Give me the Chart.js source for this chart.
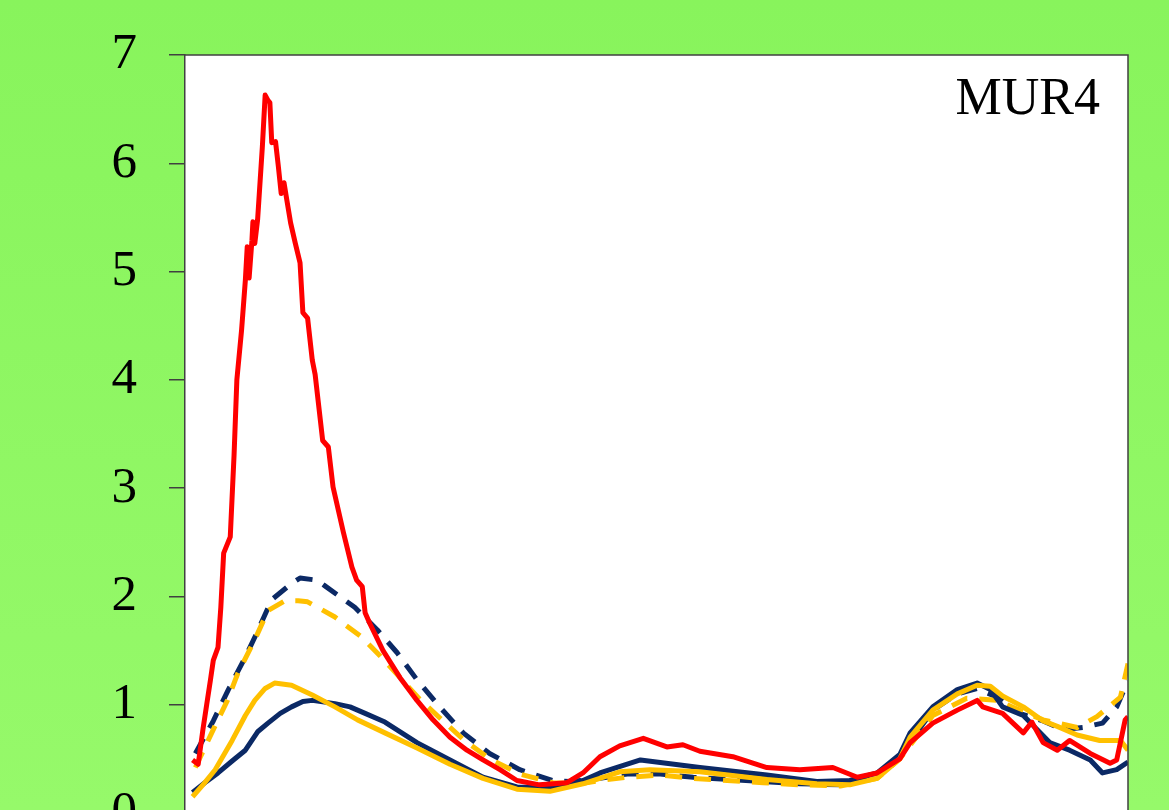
<!DOCTYPE html>
<html>
<head>
  <meta charset="UTF-8">
  <title>MUR4</title>
  <script src="https://cdn.jsdelivr.net/npm/chart.js"></script>
  <style>
    html, body { margin: 0; padding: 0; overflow: hidden; }
    body { background: linear-gradient(#88f45c, #96f96a); width: 1169px; height: 810px; }
  </style>
</head>
<body>
    <canvas id="murChart" width="1169" height="900"></canvas>
    <script>
        // x runs 0..100 across the panel, y
        var redX = [0.8, 1.4, 1.9, 2.3, 2.7, 3.0, 3.5, 3.8, 4.1, 4.8, 5.2, 5.5, 6.0, 6.4, 6.6, 6.8, 7.1, 7.2, 7.4, 7.7,
            8.2, 8.5, 8.8, 9.0, 9.2, 9.6, 9.9, 10.2, 10.5, 10.8, 11.2, 11.7, 12.2, 12.5, 13.0, 13.5, 13.8, 14.6, 15.2, 15.7,
            16.8, 17.7, 18.2, 18.8, 19.1, 19.6, 21.0, 22.8, 24.6, 26.3, 28.1, 29.9, 31.6, 33.4, 35.2, 37.6, 40.5, 42.2, 44.0, 46.1,
            48.6, 51.1, 52.8, 54.6, 58.1, 61.7, 65.2, 68.7, 71.3, 73.4, 75.8, 76.9, 79.3, 81.9, 84.0, 84.6, 86.7, 88.9, 89.8, 91.0,
            92.5, 93.8, 96.0, 98.1, 98.8, 99.7, 100];
        var redY = [0.49, 0.45, 0.77, 1.0, 1.23, 1.41, 1.53, 1.9, 2.4, 2.55, 3.3, 4.0, 4.46, 4.92, 5.23, 4.94, 5.29, 5.46, 5.26, 5.48,
            6.15, 6.63, 6.58, 6.56, 6.19, 6.2, 5.97, 5.72, 5.82, 5.66, 5.45, 5.26, 5.08, 4.62, 4.57, 4.18, 4.05, 3.44, 3.38, 3.01,
            2.59, 2.27, 2.15, 2.09, 1.85, 1.75, 1.5, 1.25, 1.04, 0.86, 0.7, 0.58, 0.49, 0.4, 0.3, 0.26, 0.28, 0.37, 0.52, 0.62,
            0.69, 0.61, 0.63, 0.57, 0.52, 0.42, 0.4, 0.42, 0.33, 0.37, 0.5, 0.65, 0.83, 0.95, 1.04, 0.98, 0.92, 0.74, 0.84, 0.65,
            0.58, 0.67, 0.55, 0.46, 0.49, 0.86, 0.89];

        var navyX = [0.8, 2.1, 3.5, 5.0, 6.4, 7.7, 8.8, 10.1, 11.3, 12.5, 13.5, 15.9, 17.5, 19.1, 21.2, 24.6, 28.1, 31.6, 35.2, 38.7,
            42.2, 44.0, 48.3, 54.6, 61.7, 67.0, 70.5, 73.4, 75.8, 76.9, 79.3, 81.9, 84.0, 85.4, 86.7, 88.9, 91.7, 93.8, 96.0, 97.3,
            98.8, 100];
        var navyY = [0.19, 0.28, 0.37, 0.48, 0.58, 0.75, 0.83, 0.92, 0.98, 1.03, 1.04, 1.01, 0.98, 0.92, 0.84, 0.65, 0.49, 0.33, 0.24, 0.23,
            0.3, 0.37, 0.49, 0.42, 0.35, 0.29, 0.3, 0.37, 0.54, 0.74, 0.98, 1.14, 1.2, 1.14, 0.98, 0.9, 0.65, 0.58, 0.49, 0.37,
            0.4, 0.47];

        var goldX = [0.8, 2.1, 3.2, 5.0, 6.4, 7.4, 8.5, 9.5, 11.3, 13.5, 15.9, 18.3, 21.2, 24.6, 28.1, 31.6, 35.2, 38.7, 42.2, 46.1,
            49.3, 54.6, 61.7, 67.0, 70.5, 73.4, 75.8, 76.9, 79.3, 81.9, 84.0, 85.4, 86.7, 88.9, 91.0, 92.5, 94.6, 97.0, 99.2, 100];
        var goldY = [0.15, 0.28, 0.4, 0.67, 0.9, 1.04, 1.15, 1.2, 1.18, 1.09, 0.98, 0.86, 0.74, 0.6, 0.45, 0.32, 0.22, 0.2, 0.27, 0.38,
            0.4, 0.38, 0.31, 0.27, 0.26, 0.32, 0.5, 0.7, 0.95, 1.1, 1.18, 1.17, 1.08, 0.98, 0.85, 0.8, 0.72, 0.67, 0.67, 0.58];

        var navyDashX = [1.1, 3.0, 4.6, 6.4, 7.6, 9.2, 11.3, 12.2, 14.0, 14.8, 18.0, 20.4, 22.5, 24.6, 27.0, 29.5, 32.3, 35.5, 39.0, 40.8,
            44.0, 46.9, 50.4, 53.9, 57.5, 61.3, 65.2, 69.5, 73.4, 75.8, 79.3, 81.9, 84.0, 86.1, 88.5, 91.0, 93.1, 95.2, 97.3, 98.8, 100];
        var navyDashY = [0.55, 0.85, 1.14, 1.44, 1.66, 1.97, 2.12, 2.17, 2.15, 2.1, 1.9, 1.69, 1.48, 1.23, 0.98, 0.74, 0.55, 0.4, 0.3, 0.29,
            0.32, 0.36, 0.36, 0.33, 0.31, 0.29, 0.27, 0.26, 0.33, 0.52, 0.95, 1.1, 1.15, 1.07, 0.92, 0.85, 0.77, 0.79, 0.83, 0.98, 1.22];

        var goldDashX = [1.1, 3.0, 4.5, 5.6, 7.4, 8.8, 10.6, 12.0, 13.0, 15.9, 18.8, 20.7, 22.8, 24.9, 27.0, 29.5, 32.3, 35.5, 39.0, 41.9,
            44.0, 46.9, 50.4, 53.9, 57.5, 61.3, 65.2, 69.5, 73.4, 75.8, 79.3, 82.9, 86.1, 88.5, 91.0, 94.6, 96.7, 99.2, 100];
        var goldDashY = [0.42, 0.77, 1.04, 1.29, 1.6, 1.87, 1.96, 1.96, 1.95, 1.81, 1.62, 1.45, 1.25, 1.05, 0.88, 0.68, 0.5, 0.36, 0.28, 0.27,
            0.3, 0.33, 0.35, 0.32, 0.3, 0.28, 0.26, 0.25, 0.32, 0.5, 0.9, 1.06, 1.04, 0.95, 0.86, 0.79, 0.89, 1.07, 1.38];

        var yTicks = [0, 1, 2, 3, 4, 5, 6, 7];
        var panelLabel = 'MUR4';

        function pts(xs, ys) {
            return xs.map(function(x, i) { return { x: x, y: ys[i] }; });
        }

        var NAVY = '#0b2965';
        var GOLD = '#ffc000';
        var RED = '#ff0000';

        // white plot box, top/right frame and the panel label
        var panelPlugin = {
            id: 'panel',
            beforeDraw: function(chart) {
                var ctx = chart.ctx, a = chart.chartArea;
                ctx.save();
                ctx.fillStyle = '#ffffff';
                ctx.fillRect(a.left, a.top, a.right - a.left, a.bottom - a.top);
                ctx.restore();
            },
            afterDraw: function(chart) {
                var ctx = chart.ctx, a = chart.chartArea;
                ctx.save();
                ctx.strokeStyle = '#404040';
                ctx.lineWidth = 1.5;
                ctx.beginPath();
                ctx.moveTo(a.left, a.top);
                ctx.lineTo(a.right, a.top);
                ctx.lineTo(a.right, a.bottom);
                ctx.stroke();
                ctx.fillStyle = '#000000';
                ctx.font = '52px "Liberation Serif", "Times New Roman", serif';
                ctx.textAlign = 'right';
                ctx.textBaseline = 'alphabetic';
                ctx.fillText(panelLabel, a.right - 28, a.top + 59);
                ctx.restore();
            }
        };

        var ctx = document.getElementById('murChart').getContext('2d');
        new Chart(ctx, {
            type: 'line',
            data: {
                datasets: [
                    { data: pts(redX, redY), borderColor: RED, borderWidth: 5 },
                    { data: pts(goldX, goldY), borderColor: GOLD, borderWidth: 5 },
                    { data: pts(navyX, navyY), borderColor: NAVY, borderWidth: 5 },
                    { data: pts(goldDashX, goldDashY), borderColor: GOLD, borderWidth: 5, borderDash: [17, 12] },
                    { data: pts(navyDashX, navyDashY), borderColor: NAVY, borderWidth: 5, borderDash: [17, 12] }
                ]
            },
            options: {
                responsive: false,
                animation: false,
                layout: { padding: { top: 55, right: 41, bottom: 87, left: 0 } },
                elements: {
                    point: { radius: 0 },
                    line: { tension: 0, fill: false, borderJoinStyle: 'round' }
                },
                scales: {
                    x: { type: 'linear', min: 0, max: 100, display: false },
                    y: {
                        min: 0,
                        max: 7,
                        afterFit: function(scale) {
                            scale.width = 185;
                            scale.paddingTop = 0;
                            scale.paddingBottom = 0;
                        },
                        afterBuildTicks: function(scale) {
                            scale.ticks = yTicks.map(function(v) { return { value: v }; });
                        },
                        ticks: {
                            padding: 32,
                            color: '#000000',
                            font: { family: '"Liberation Serif", "Times New Roman", serif', size: 51 }
                        },
                        grid: { drawOnChartArea: false, color: '#404040', lineWidth: 1.5, tickLength: 16 },
                        border: { display: true, color: '#404040', width: 1.5 }
                    }
                },
                plugins: {
                    legend: { display: false },
                    tooltip: { enabled: false }
                }
            },
            plugins: [panelPlugin]
        });
    </script>
</body>
</html>
